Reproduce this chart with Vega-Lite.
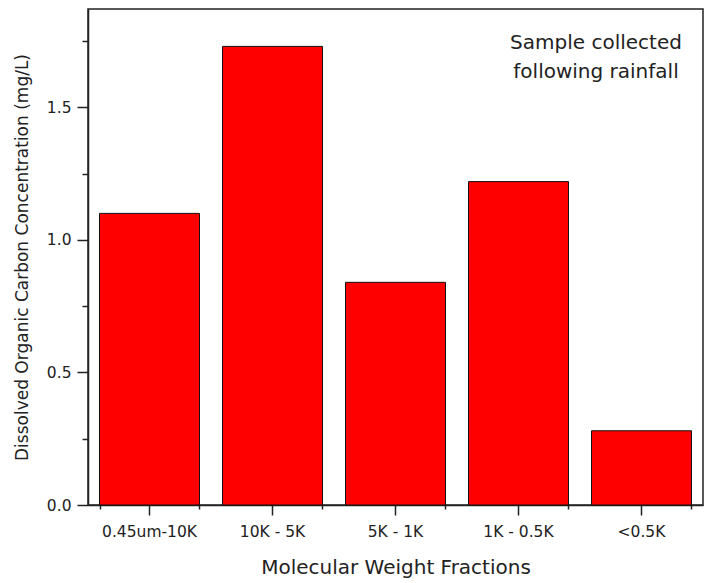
{
  "$schema": "https://vega.github.io/schema/vega-lite/v6.json",
  "autosize": {"type": "none"},
  "padding": {"left": 88, "top": 9, "right": 6, "bottom": 78},
  "width": 615,
  "height": 496,
  "background": "white",
  "config": {
    "view": {"stroke": "#222222", "strokeWidth": 1.5},
    "font": "DejaVu Sans",
    "axis": {
      "domainColor": "#222222",
      "domainWidth": 1.5,
      "tickColor": "#222222",
      "tickWidth": 1.5,
      "labelColor": "#222222",
      "titleColor": "#222222",
      "labelFont": "DejaVu Sans",
      "titleFont": "DejaVu Sans",
      "titleFontWeight": "normal",
      "grid": false
    }
  },
  "datasets": {
    "fractions": [
      {"fraction": "0.45um-10K", "doc": 1.10},
      {"fraction": "10K - 5K", "doc": 1.73},
      {"fraction": "5K - 1K", "doc": 0.84},
      {"fraction": "1K - 0.5K", "doc": 1.22},
      {"fraction": "<0.5K", "doc": 0.28}
    ],
    "note": [
      {"pos": 4.13, "level": 1.743, "line": "Sample collected"},
      {"pos": 4.13, "level": 1.633, "line": "following rainfall"}
    ]
  },
  "layer": [
    {
      "data": {"name": "fractions"},
      "mark": {"type": "bar", "fill": "#ff0000", "stroke": "#111111", "strokeWidth": 1},
      "encoding": {
        "x": {
          "field": "fraction",
          "type": "nominal",
          "sort": null,
          "scale": {"paddingInner": 0.187, "paddingOuter": 0.0935},
          "axis": {
            "orient": "bottom",
            "title": "Molecular Weight Fractions",
            "labelAngle": 0,
            "labelFontSize": 15.5,
            "labelPadding": 9,
            "tickSize": 10,
            "titleFontSize": 20,
            "titlePadding": 18
          }
        },
        "y": {
          "field": "doc",
          "type": "quantitative",
          "scale": {"domain": [0, 1.871], "nice": false, "zero": true},
          "axis": {
            "orient": "left",
            "title": "Dissolved Organic Carbon Concentration (mg/L)",
            "values": [0, 0.5, 1.0, 1.5],
            "format": ".1f",
            "labelFontSize": 15.5,
            "labelPadding": 6,
            "tickSize": 11,
            "titleFontSize": 17,
            "titlePadding": 15
          }
        }
      }
    },
    {
      "data": {"name": "fractions"},
      "mark": {"type": "bar", "opacity": 0},
      "encoding": {
        "x": {
          "field": "fraction",
          "type": "nominal",
          "sort": null,
          "scale": {"paddingInner": 0.187, "paddingOuter": 0.0935},
          "axis": {
            "orient": "bottom",
            "title": null,
            "labels": false,
            "domain": false,
            "tickBand": "extent",
            "tickSize": 4
          }
        },
        "y": {
          "field": "doc",
          "type": "quantitative",
          "axis": {
            "orient": "left",
            "title": null,
            "labels": false,
            "domain": false,
            "values": [0.25, 0.75, 1.25, 1.75],
            "tickSize": 6
          }
        }
      }
    },
    {
      "data": {"name": "note"},
      "mark": {"type": "text", "fontSize": 20, "align": "center", "baseline": "middle", "color": "#222222", "font": "DejaVu Sans"},
      "encoding": {
        "x": {"field": "pos", "type": "quantitative", "scale": {"domain": [0, 5], "nice": false}, "axis": null},
        "y": {"field": "level", "type": "quantitative", "axis": null},
        "text": {"field": "line"}
      }
    }
  ],
  "resolve": {
    "scale": {"x": "independent"},
    "axis": {"x": "independent", "y": "independent"}
  }
}
